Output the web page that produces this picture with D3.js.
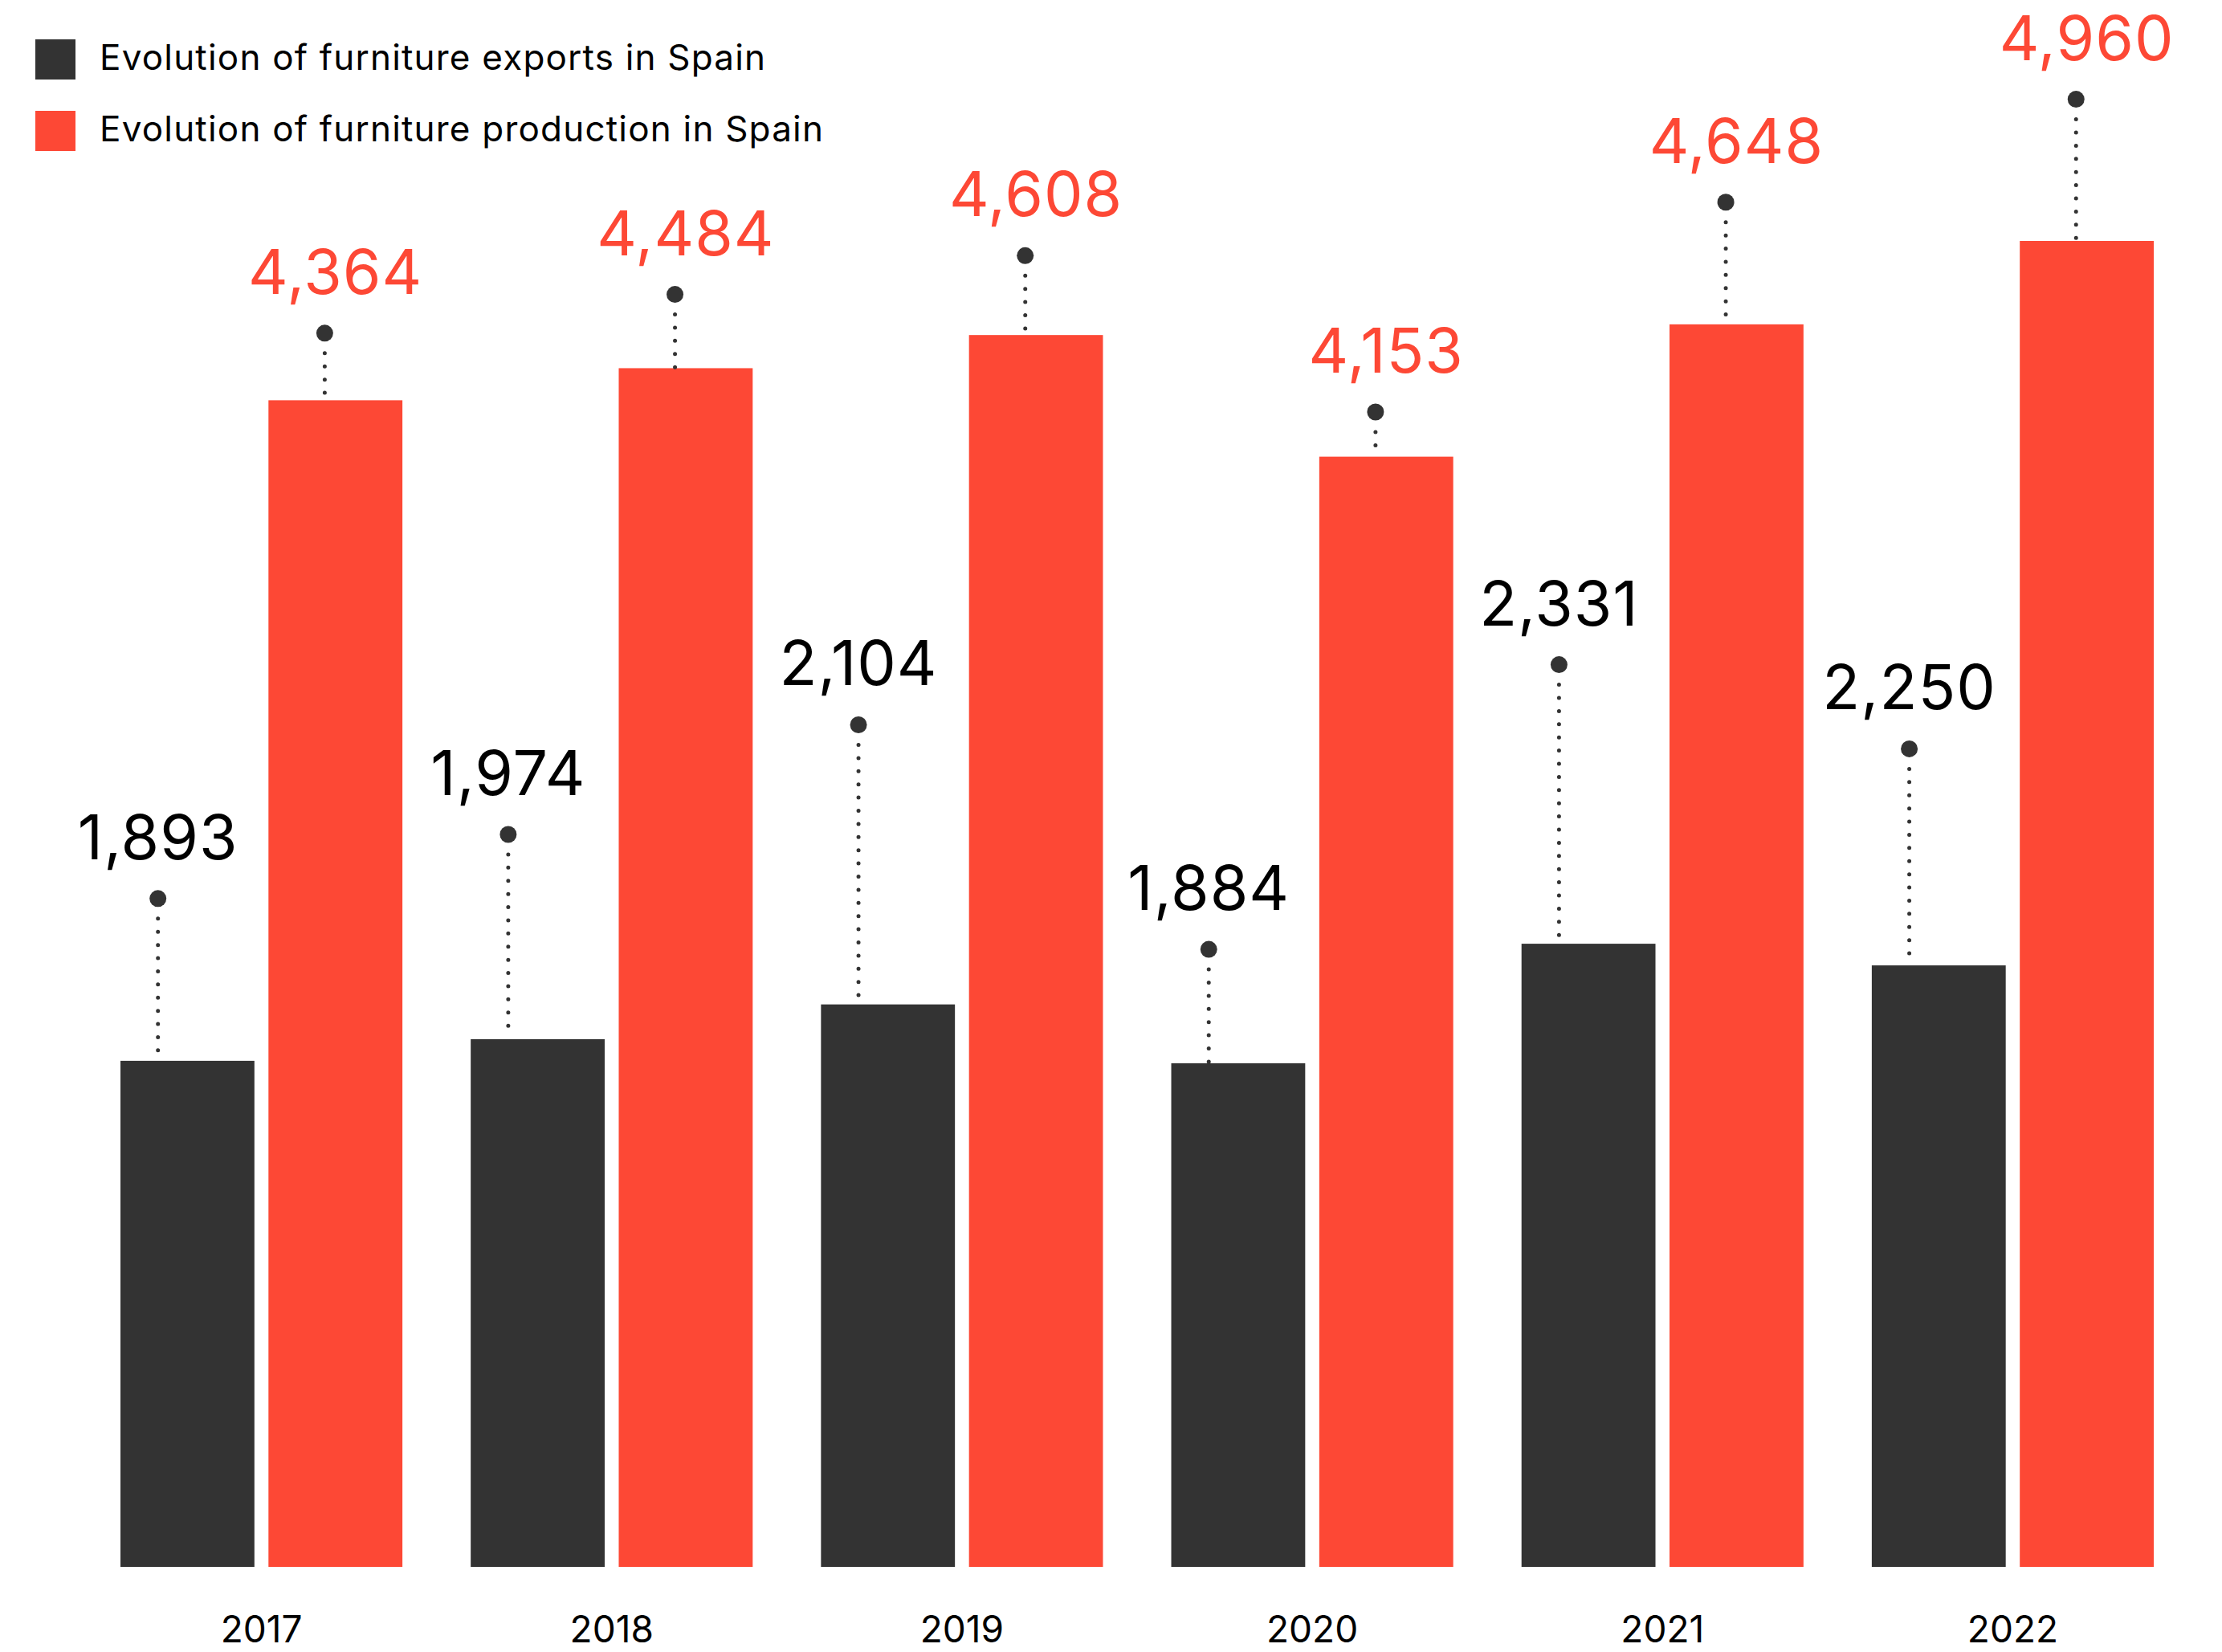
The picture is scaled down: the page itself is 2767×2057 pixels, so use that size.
<!DOCTYPE html>
<html><head><meta charset="utf-8">
<script src="https://cdn.jsdelivr.net/npm/d3@7"></script>
<style>body{margin:0;background:#fff} svg{display:block}</style></head><body>
<script>
const years = ["2017","2018","2019","2020","2021","2022"];
const exportsValues = [1893,1974,2104,1884,2331,2250];
const productionValues = [4364,4484,4608,4153,4648,4960];
// annotation anchor levels (data units) where each callout dot sits
const exportsCalloutLevels = [2500,2740,3150,2310,3375,3060];
const productionCalloutLevels = [4615,4760,4905,4320,5105,5490];
const seriesNames = ["Evolution of furniture exports in Spain","Evolution of furniture production in Spain"];
const seriesColors = ["#333333","#FD4835"];
const labelColors = ["#000000","#FD4835"];

const W = 2767, H = 2057;
const FONT = "Inter, 'Noto Sans', sans-serif";
const svg = d3.select("body").append("svg").attr("width", W).attr("height", H);

const x0 = d3.scaleBand().domain(years).range([150, 2682]).paddingInner(0.195).paddingOuter(0);
const x1 = d3.scaleBand().domain([0, 1]).range([0, x0.bandwidth()]).paddingInner(0.095);
const y = d3.scaleLinear().domain([0, 4960]).range([1951, 300]);

const series = [
  {values: exportsValues, levels: exportsCalloutLevels, dotShift: -0.22, labelShift: -0.22},
  {values: productionValues, levels: productionCalloutLevels, dotShift: -0.08, labelShift: 0}
];

const rows = [];
years.forEach((yr, i) => series.forEach((s, k) => rows.push({yr, k, v: s.values[i], lvl: s.levels[i], s})));

const g = svg.append("g");
// bars
g.selectAll("rect.bar").data(rows).join("rect")
  .attr("class", "bar")
  .attr("x", d => x0(d.yr) + x1(d.k))
  .attr("y", d => y(d.v))
  .attr("width", x1.bandwidth())
  .attr("height", d => y(0) - y(d.v))
  .attr("fill", d => seriesColors[d.k]);

const cx = d => x0(d.yr) + x1(d.k) + x1.bandwidth() / 2 + d.s.dotShift * x1.bandwidth();
const lx = d => x0(d.yr) + x1(d.k) + x1.bandwidth() / 2 + d.s.labelShift * x1.bandwidth();

// dotted leaders
g.selectAll("line.leader").data(rows).join("line")
  .attr("class", "leader")
  .attr("x1", cx).attr("x2", cx)
  .attr("y1", d => y(d.lvl) + 25)
  .attr("y2", d => y(d.v) - 1)
  .attr("stroke", "#333")
  .attr("stroke-width", 5)
  .attr("stroke-linecap", "round")
  .attr("stroke-dasharray", "0 16.4");

// dots
g.selectAll("circle.dot").data(rows).join("circle")
  .attr("class", "dot")
  .attr("cx", cx)
  .attr("cy", d => y(d.lvl))
  .attr("r", 10.5)
  .attr("fill", "#333");

// value labels
const fmt = d3.format(",");
g.selectAll("text.val").data(rows).join("text")
  .attr("class", "val")
  .attr("x", lx)
  .attr("y", d => y(d.lvl) - 49)
  .attr("text-anchor", "middle")
  .attr("font-family", FONT)
  .attr("font-size", 77)
  .attr("letter-spacing", 1)
  .attr("fill", d => labelColors[d.k])
  .text(d => fmt(d.v));

// x axis
const ax = svg.append("g").attr("transform", `translate(0,${y(0)})`)
  .call(d3.axisBottom(x0).tickSize(0).tickPadding(61));
ax.select(".domain").remove();
ax.selectAll("text").attr("font-family", FONT).attr("font-size", 46).attr("fill", "#000");

// legend
const lg = svg.append("g");
seriesNames.forEach((name, k) => {
  const row = lg.append("g").attr("transform", `translate(44,${49 + k * 89})`);
  row.append("rect").attr("width", 50).attr("height", 50).attr("fill", seriesColors[k]);
  row.append("text").attr("x", 80).attr("y", 38)
    .attr("font-family", FONT).attr("font-size", 44).attr("letter-spacing", 1.2)
    .attr("fill", "#000").text(name);
});
</script>
</body></html>
